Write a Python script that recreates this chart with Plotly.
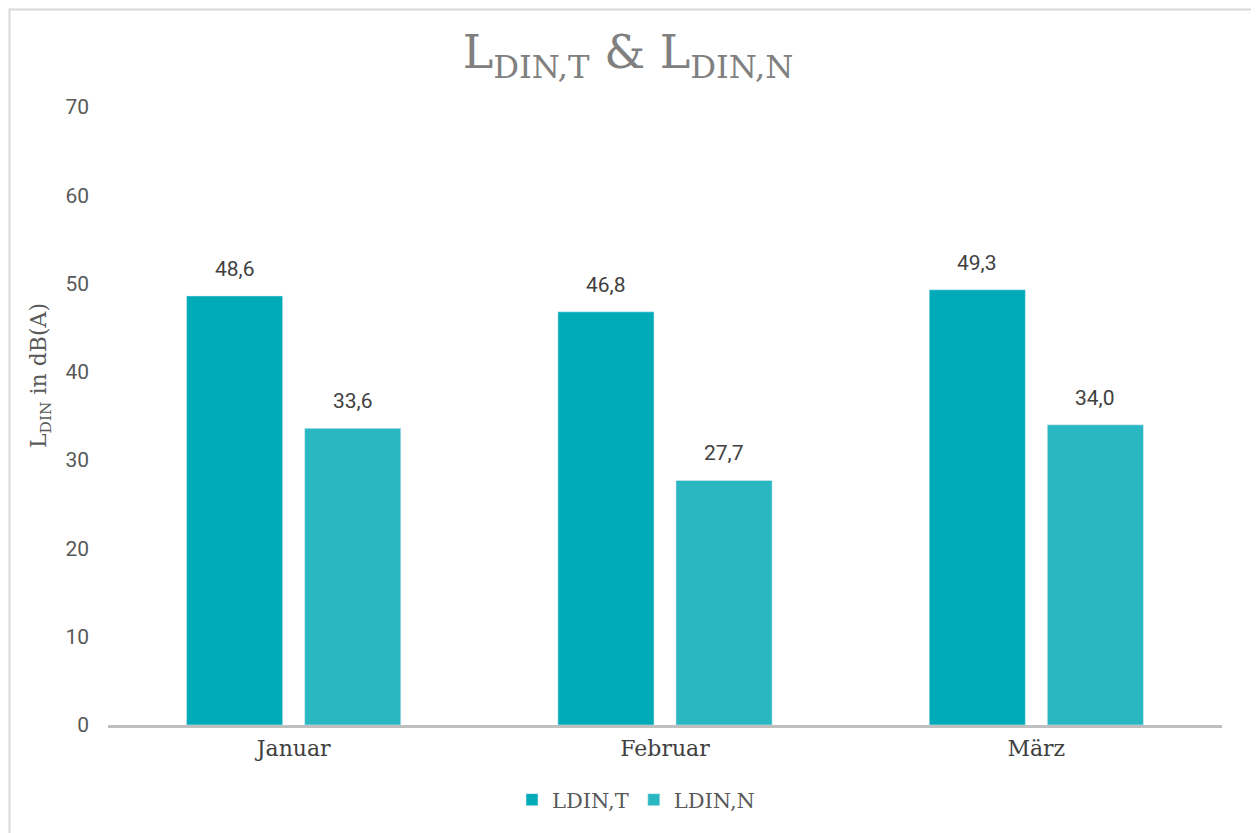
import plotly.graph_objects as go

categories = ["Januar", "Februar", "März"]
ldin_t = [48.6, 46.8, 49.3]
ldin_n = [33.6, 27.7, 34.0]
y_ticks = [0, 10, 20, 30, 40, 50, 60, 70]

FONT = "DejaVu Serif"
NUMFONT = "Roboto"

def fmt(v):
    return f"{v:.1f}".replace(".", ",")

BARGAP, GROUPGAP = 0.364, 0.186

fig = go.Figure()
fig.add_trace(go.Bar(
    x=categories, y=ldin_t, name="LDIN,T",
    marker=dict(color="#00abb8"),
))
fig.add_trace(go.Bar(
    x=categories, y=ldin_n, name="LDIN,N",
    marker=dict(color="#29b8c2"),
))

# page body has 8px margin -> figure starts at (8, 8)
OFF = 8
W, H = 1259 - OFF, 833 - OFF
L, R, T, B = 108 - OFF, 37, 107 - OFF, 833 - 725
pw = W - L - R
ph = H - T - B

slot = pw / 3 * (1 - BARGAP) / 2  # px width of one bar slot
annots = []
for series, sgn in ((ldin_t, -1), (ldin_n, 1)):
    for c, v in zip(categories, series):
        annots.append(dict(
            x=c, y=v, xref="x", yref="y", text=fmt(v), showarrow=False,
            xshift=sgn * slot / 2, yshift=27, yanchor="middle",
            font=dict(size=21, color="#404040", family=NUMFONT),
        ))
annots.append(dict(
    text="L<sub>DIN</sub> in dB(A)", textangle=-90, showarrow=False,
    xref="paper", yref="paper", x=(40 - 108) / pw, y=(725 - 376) / ph,
    xanchor="center", yanchor="middle",
    font=dict(size=22, color="#595959", family=FONT),
))

fig.update_layout(
    width=W, height=H,
    margin=dict(l=L, r=R, t=T, b=B, autoexpand=False),
    paper_bgcolor="white", plot_bgcolor="white",
    font=dict(family=FONT, color="#595959", size=20),
    title=dict(
        text="L<sub>DIN,T</sub> & L<sub>DIN,N</sub>",
        x=(628 - OFF) / W, xref="container", xanchor="center",
        y=1 - (52 - OFF) / H, yanchor="middle",
        font=dict(size=46, color="#808080", family=FONT),
    ),
    barmode="group", bargap=BARGAP, bargroupgap=GROUPGAP,
    showlegend=True,
    legend=dict(
        orientation="h", xref="paper", x=(636 - 108) / pw, xanchor="center",
        y=-(800 - 725) / ph, yanchor="middle",
        font=dict(size=21, color="#595959", family=FONT),
        itemwidth=30,
    ),
    xaxis=dict(
        showgrid=False, showline=True, linecolor="#bfbfbf", linewidth=2.5,
        ticks="", tickfont=dict(size=22, color="#404040", family=FONT),
        ticklabelstandoff=2,
    ),
    yaxis=dict(
        range=[0, 70], tickvals=y_ticks, showgrid=False, showline=False,
        zeroline=False, ticks="",
        tickfont=dict(size=21, color="#595959", family=NUMFONT),
        ticklabelstandoff=18,
    ),
    annotations=annots,
    shapes=[dict(
        type="rect", xref="paper", yref="paper",
        x0=(9.5 - 108) / pw, x1=(1253 - 108) / pw,
        y0=-(845 - 725) / ph, y1=(725 - 9.5) / ph,
        line=dict(color="#d9d9d9", width=2), fillcolor="rgba(0,0,0,0)",
        layer="below",
    )],
)

fig.write_html("out.html")
